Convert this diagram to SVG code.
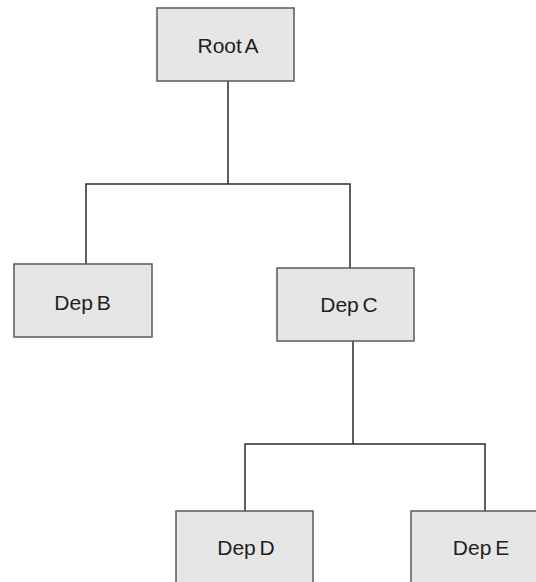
<svg xmlns="http://www.w3.org/2000/svg" width="536" height="582" viewBox="0 0 536 582">
<style>
.box{fill:#e6e6e7;stroke:#5a5a5a;stroke-width:1.5}
.lbl{font-family:"Liberation Sans",Arial,sans-serif;font-size:21px;fill:#1e1e1e;text-anchor:middle;word-spacing:-2px}
.conn{fill:none;stroke:#2a2a2a;stroke-width:1.5}
</style>
<rect width="536" height="582" fill="#ffffff"/>
<g id="connectors">
<path class="conn" d="M228,81 V184 M86,264 V184 H350 V268"/>
<path class="conn" d="M353,341 V444 M245,511 V444 H485 V511"/>
</g>
<g id="rootA">
<rect class="box" x="157" y="8" width="137" height="73"/>
<text class="lbl" x="228" y="53">Root A</text>
</g>
<g id="depB">
<rect class="box" x="14" y="264" width="138" height="73"/>
<text class="lbl" x="82.5" y="310">Dep B</text>
</g>
<g id="depC">
<rect class="box" x="277" y="268" width="137" height="73"/>
<text class="lbl" x="349" y="312">Dep C</text>
</g>
<g id="depD">
<rect class="box" x="176" y="511" width="137" height="80"/>
<text class="lbl" x="246" y="555">Dep D</text>
</g>
<g id="depE">
<rect class="box" x="411" y="511" width="137" height="80"/>
<text class="lbl" x="481" y="555">Dep E</text>
</g>
</svg>
